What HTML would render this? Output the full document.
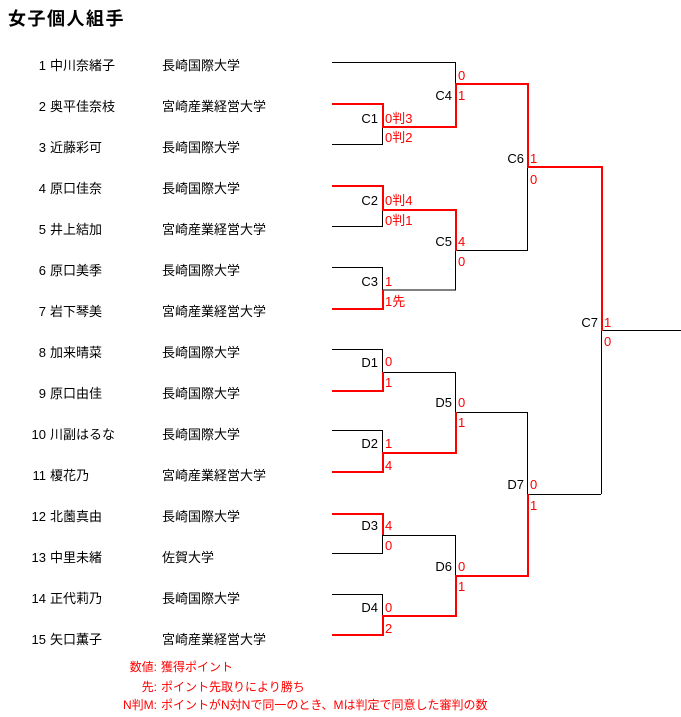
<!DOCTYPE html>
<html><head><meta charset="utf-8"><style>
html,body{margin:0;padding:0;background:#fff;}
svg{display:block;}
text{font-family:"Liberation Sans","Noto Sans CJK JP",sans-serif;font-size:13px;}
.r{fill:#f00;}
.e{text-anchor:end;}
</style></head><body>
<svg width="681" height="717" viewBox="0 0 681 717" xmlns="http://www.w3.org/2000/svg">
<text x="8" y="25" style="font-size:18px;font-weight:bold;letter-spacing:1.5px">女子個人組手</text>
<g>
<text x="46" y="70" class="e">1</text><text x="50" y="70">中川奈緒子</text><text x="162" y="70">長崎国際大学</text>
<text x="46" y="111" class="e">2</text><text x="50" y="111">奥平佳奈枝</text><text x="162" y="111">宮崎産業経営大学</text>
<text x="46" y="152" class="e">3</text><text x="50" y="152">近藤彩可</text><text x="162" y="152">長崎国際大学</text>
<text x="46" y="193" class="e">4</text><text x="50" y="193">原口佳奈</text><text x="162" y="193">長崎国際大学</text>
<text x="46" y="234" class="e">5</text><text x="50" y="234">井上結加</text><text x="162" y="234">宮崎産業経営大学</text>
<text x="46" y="275" class="e">6</text><text x="50" y="275">原口美季</text><text x="162" y="275">長崎国際大学</text>
<text x="46" y="316" class="e">7</text><text x="50" y="316">岩下琴美</text><text x="162" y="316">宮崎産業経営大学</text>
<text x="46" y="357" class="e">8</text><text x="50" y="357">加来晴菜</text><text x="162" y="357">長崎国際大学</text>
<text x="46" y="398" class="e">9</text><text x="50" y="398">原口由佳</text><text x="162" y="398">長崎国際大学</text>
<text x="46" y="439" class="e">10</text><text x="50" y="439">川副はるな</text><text x="162" y="439">長崎国際大学</text>
<text x="46" y="480" class="e">11</text><text x="50" y="480">榎花乃</text><text x="162" y="480">宮崎産業経営大学</text>
<text x="46" y="521" class="e">12</text><text x="50" y="521">北薗真由</text><text x="162" y="521">長崎国際大学</text>
<text x="46" y="562" class="e">13</text><text x="50" y="562">中里未緒</text><text x="162" y="562">佐賀大学</text>
<text x="46" y="603" class="e">14</text><text x="50" y="603">正代莉乃</text><text x="162" y="603">長崎国際大学</text>
<text x="46" y="644" class="e">15</text><text x="50" y="644">矢口薫子</text><text x="162" y="644">宮崎産業経営大学</text>
</g>
<g stroke="#000" stroke-width="1" fill="none" shape-rendering="crispEdges">
<path d="M332 62.5H455.5V127"/>
<path d="M332 144.5H382.5V127"/>
<path d="M332 226.5H382.5V210"/>
<path d="M332 267.5H382.5V290H455.5V250"/>
<path d="M455 250.5H527.5V167"/>
<path d="M601.5 330V494"/>
<path d="M601 330.5H681"/>
<path d="M332 349.5H382.5V372.5H455.5V412.5H527.5V494.5H601"/>
<path d="M332 430.5H382.5V453"/>
<path d="M332 553.5H382.5V535.5H455.5V576"/>
<path d="M332 594.5H382.5V616"/>
</g>
<g stroke="#f00" stroke-width="2" fill="none" shape-rendering="crispEdges">
<path d="M332 104H383V127H456V84H528V167H602V331"/>
<path d="M332 186H383V210H456V251"/>
<path d="M383 290V309H332"/>
<path d="M332 391H383V372"/>
<path d="M332 472H383V453H456V412"/>
<path d="M332 514H383V535"/>
<path d="M332 635H383V616H456V576H528V494"/>
</g>
<g>
<text x="378" y="123" class="e">C1</text><text x="385" y="123" class="r">0判3</text><text x="385" y="142" class="r">0判2</text>
<text x="452" y="100" class="e">C4</text><text x="458" y="80" class="r">0</text><text x="458" y="100" class="r">1</text>
<text x="524" y="163" class="e">C6</text><text x="530" y="163" class="r">1</text><text x="530" y="184" class="r">0</text>
<text x="378" y="205" class="e">C2</text><text x="385" y="205" class="r">0判4</text><text x="385" y="225" class="r">0判1</text>
<text x="452" y="246" class="e">C5</text><text x="458" y="246" class="r">4</text><text x="458" y="266" class="r">0</text>
<text x="378" y="286" class="e">C3</text><text x="385" y="286" class="r">1</text><text x="385" y="306" class="r">1先</text>
<text x="598" y="327" class="e">C7</text><text x="604" y="327" class="r">1</text><text x="604" y="346" class="r">0</text>
<text x="378" y="367" class="e">D1</text><text x="385" y="366" class="r">0</text><text x="385" y="387" class="r">1</text>
<text x="452" y="407" class="e">D5</text><text x="458" y="407" class="r">0</text><text x="458" y="427" class="r">1</text>
<text x="378" y="448" class="e">D2</text><text x="385" y="448" class="r">1</text><text x="385" y="470" class="r">4</text>
<text x="524" y="489" class="e">D7</text><text x="530" y="489" class="r">0</text><text x="530" y="510" class="r">1</text>
<text x="378" y="530" class="e">D3</text><text x="385" y="530" class="r">4</text><text x="385" y="550" class="r">0</text>
<text x="452" y="571" class="e">D6</text><text x="458" y="571" class="r">0</text><text x="458" y="591" class="r">1</text>
<text x="378" y="612" class="e">D4</text><text x="385" y="612" class="r">0</text><text x="385" y="633" class="r">2</text>
</g>
<g style="font-size:12px">
<text x="157" y="671" class="e r" style="font-size:12px">数値:</text><text x="161" y="671" class="r" style="font-size:12px">獲得ポイント</text>
<text x="157" y="691" class="e r" style="font-size:12px">先:</text><text x="161" y="691" class="r" style="font-size:12px">ポイント先取りにより勝ち</text>
<text x="157" y="709" class="e r" style="font-size:12px">N判M:</text><text x="161" y="709" class="r" style="font-size:12px">ポイントがN対Nで同一のとき、Mは判定で同意した審判の数</text>
</g>
</svg>
</body></html>
